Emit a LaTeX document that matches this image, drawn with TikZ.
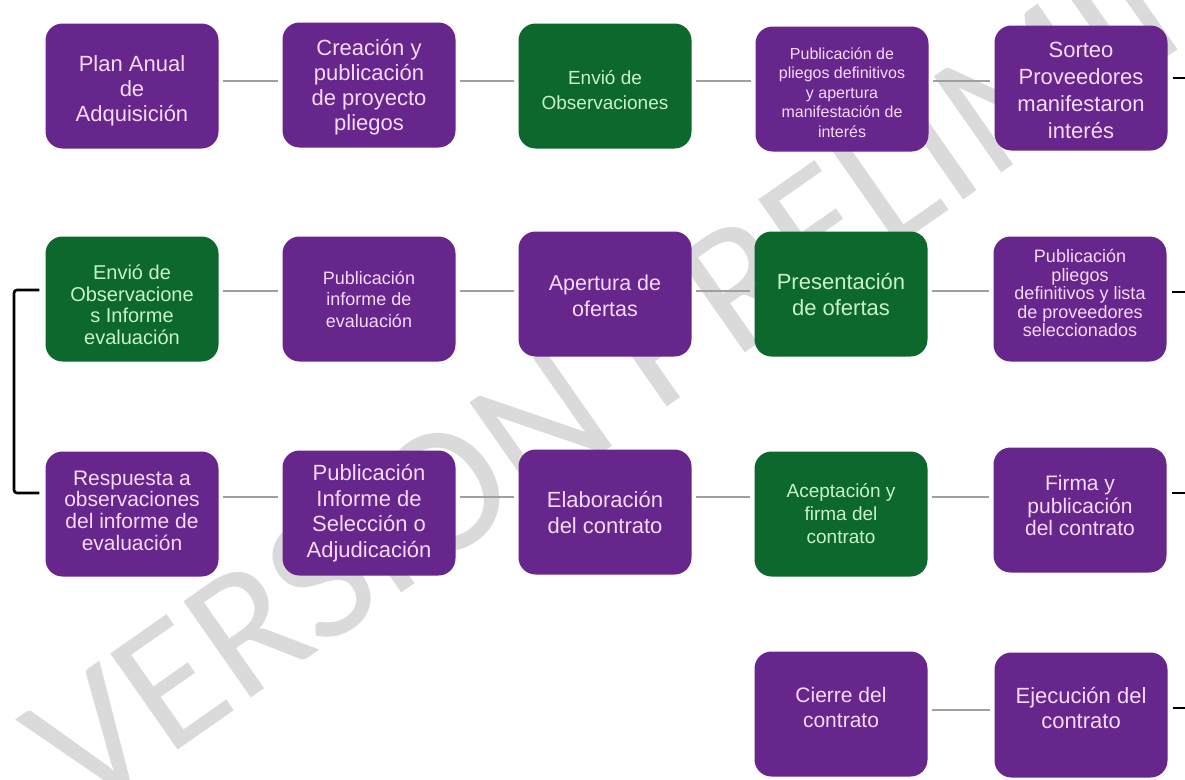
\documentclass[tikz,border=0pt]{standalone}
\usepackage{fontspec}
\setmainfont{Liberation Sans}
\newfontfamily\wmfont{Carlito}
\definecolor{purp}{RGB}{102,38,140}
\definecolor{grn}{RGB}{12,104,44}
\definecolor{ptext}{RGB}{245,218,247}
\definecolor{gtext}{RGB}{200,242,200}
\definecolor{lgray}{RGB}{160,160,160}
\definecolor{wmgray}{RGB}{218,218,218}
\newcommand\dnstrut[1]{\rule{0pt}{#1}}
\begin{document}
\begin{tikzpicture}[x=1pt,y=-1pt,
  box/.style={rounded corners=17pt, minimum width=173pt, minimum height=125pt, align=center, inner sep=2pt},
  pbox/.style={box, fill=purp, text=ptext},
  gbox/.style={box, fill=grn, text=gtext},
  conn/.style={draw=lgray, line width=1.6pt, shorten <=4pt, shorten >=4pt},
  stub/.style={draw=black, line width=2.6pt, shorten <=5pt},
  bracket/.style={draw=black, line width=2.6pt, rounded corners=3pt, shorten <=6pt, shorten >=6pt},
  fs/.style n args={2}{font=\fontsize{#1}{#2}\selectfont},
  tup/.style={execute at end node={\rule[-#1]{0pt}{0pt}}},
  wm/.style={text=wmgray, rotate=35, font=\wmfont\fontsize{183}{183}\selectfont, inner sep=0pt}
]
\useasboundingbox (0,0) rectangle (1185,779);
\fill[white] (0,0) rectangle (1185,779);
\begin{scope}
\clip (0,0) rectangle (1185,779);
\node[wm] (wm) at (718,300) {VERSION PRELIMINAR};
\end{scope}

% row 1
\node[pbox, fs={22}{25}] (a1) at (132,86) {\dnstrut{26pt}Plan Anual\\de\\Adquisición};
\node[pbox, fs={22}{25}] (a2) at (369,85) {\dnstrut{20.5pt}Creación y\\publicación\\de proyecto\\pliegos};
\node[gbox, fs={19}{25}] (a3) at (605,86) {\dnstrut{22pt}Envió de\\Observaciones};
\node[pbox, fs={16}{19.5}] (a4) at (842,89) {\dnstrut{18.7pt}Publicación de\\pliegos definitivos\\y apertura\\manifestación de\\interés};
\node[pbox, fs={22}{27}] (a5) at (1081,88) {\dnstrut{19.5pt}Sorteo\\Proveedores\\manifestaron\\interés};

% row 2
\node[gbox, fs={20}{21.5}] (b1) at (132,299) {\dnstrut{26.6pt}Envió de\\Observacione\\s Informe\\evaluación};
\node[pbox, fs={18}{21.5}] (b2) at (369,299) {Publicación\\informe de\\evaluación};
\node[pbox, fs={21.5}{26}] (b3) at (605,294) {\dnstrut{19.7pt}Apertura de\\ofertas};
\node[gbox, fs={22}{26}] (b4) at (841,294) {\dnstrut{18pt}Presentación\\de ofertas};
\node[pbox, fs={18}{18.5}, tup=12pt] (b5) at (1080,299) {Publicación\\pliegos\\definitivos y lista\\de proveedores\\seleccionados};

% row 3
\node[pbox, fs={21}{21.7}, tup=7pt] (c1) at (132,514) {Respuesta a\\observaciones\\del informe de\\evaluación};
\node[pbox, fs={22}{25.5}] (c2) at (369,513) {Publicación\\Informe de\\Selección o\\Adjudicación};
\node[pbox, fs={22}{26}] (c3) at (605,512) {Elaboración\\del contrato};
\node[gbox, fs={19}{23}] (c4) at (841,514) {Aceptación y\\firma del\\contrato};
\node[pbox, fs={21}{22.5}, tup=9pt] (c5) at (1080,510) {Firma y\\publicación\\del contrato};

% row 4
\node[pbox, fs={21}{25}, tup=14pt] (d4) at (841,714) {Cierre del\\contrato};
\node[pbox, fs={22}{25}, tup=14pt] (d5) at (1081,715) {Ejecución del\\contrato};

% row levels
\coordinate (y1) at (0,81);
\coordinate (y2) at (0,291);
\coordinate (y3) at (0,497);
\coordinate (y4) at (0,710);

\draw[conn] (a1.east |- y1) -- (a2.west |- y1);
\draw[conn] (a2.east |- y1) -- (a3.west |- y1);
\draw[conn] (a3.east |- y1) -- (a4.west |- y1);
\draw[conn] (a4.east |- y1) -- (a5.west |- y1);

\draw[conn] (b1.east |- y2) -- (b2.west |- y2);
\draw[conn] (b2.east |- y2) -- (b3.west |- y2);
\draw[conn] (b3.east |- y2) -- (b4.west |- y2);
\draw[conn] (b4.east |- y2) -- (b5.west |- y2);

\draw[conn] (c1.east |- y3) -- (c2.west |- y3);
\draw[conn] (c2.east |- y3) -- (c3.west |- y3);
\draw[conn] (c3.east |- y3) -- (c4.west |- y3);
\draw[conn] (c4.east |- y3) -- (c5.west |- y3);

\draw[conn] (d4.east |- y4) -- (d5.west |- y4);

% outgoing stubs
\coordinate (e1) at (1190,78);
\coordinate (e2) at (1190,292);
\coordinate (e3) at (1190,493);
\coordinate (e4) at (1190,708);
\draw[stub] (a5.east |- e1) -- (e1);
\draw[stub] (b5.east |- e2) -- (e2);
\draw[stub] (c5.east |- e3) -- (e3);
\draw[stub] (d5.east |- e4) -- (e4);

% left bracket
\coordinate (k1) at (14,290);
\coordinate (k2) at (14,493);
\draw[bracket] (b1.west |- k1) -- (k1) -- (k2) -- (c1.west |- k2);
\end{tikzpicture}
\end{document}
